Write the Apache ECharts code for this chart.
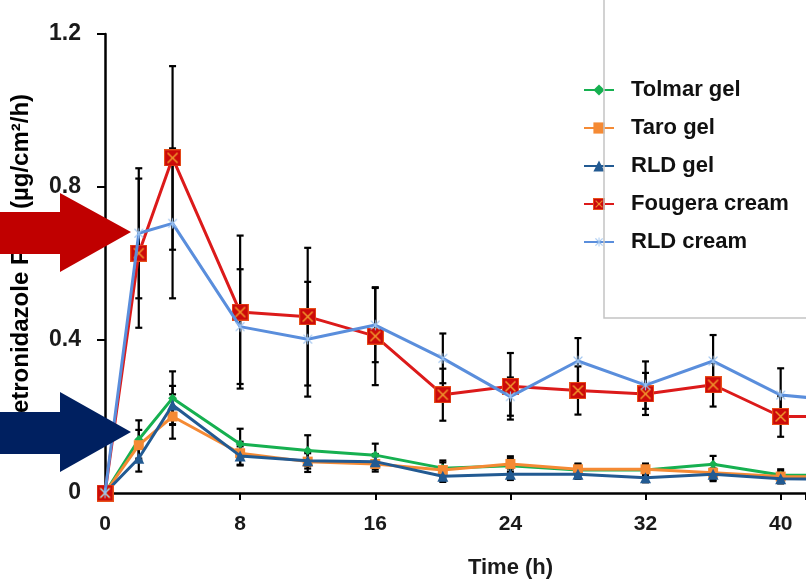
<!DOCTYPE html>
<html><head><meta charset="utf-8">
<script src="https://cdn.jsdelivr.net/npm/echarts@6/dist/echarts.min.js"></script>
<style>html,body{margin:0;padding:0;background:#fff}#c{width:806px;height:580px}</style>
</head><body><div id="c"></div>
<script>
// Time points (h)
const times = [0, 2, 4, 8, 12, 16, 20, 24, 28, 32, 36, 40, 44];
// Series names
const seriesNames = ['Tolmar gel', 'Taro gel', 'RLD gel', 'Fougera cream', 'RLD cream'];
// Flux values (µg/cm²/h)
const tolmar   = [0, 0.140, 0.248, 0.128, 0.111, 0.099, 0.065, 0.071, 0.060, 0.060, 0.075, 0.047, 0.045];
const taro     = [0, 0.125, 0.200, 0.104, 0.082, 0.076, 0.060, 0.076, 0.062, 0.062, 0.053, 0.043, 0.042];
const rldGel   = [0, 0.091, 0.230, 0.097, 0.084, 0.082, 0.044, 0.049, 0.049, 0.040, 0.049, 0.037, 0.036];
const fougera  = [0, 0.627, 0.876, 0.473, 0.461, 0.410, 0.257, 0.279, 0.268, 0.259, 0.283, 0.200, 0.200];
const rldCream = [0, 0.679, 0.705, 0.435, 0.402, 0.439, 0.352, 0.252, 0.345, 0.282, 0.345, 0.256, 0.240];
// Error bar half-widths (SD)
const tolmarErr   = [0, 0.050, 0.070, 0.040, 0.040, 0.030, 0.020, 0.020, 0.015, 0.015, 0.022, 0.015, 0.015];
const taroErr     = [0, 0.040, 0.058, 0.030, 0.027, 0.020, 0.020, 0.020, 0.015, 0.015, 0.022, 0.015, 0.015];
const rldGelErr   = [0, 0.035, 0.050, 0.025, 0.020, 0.020, 0.015, 0.015, 0.012, 0.012, 0.015, 0.012, 0.012];
const fougeraErr  = [0, 0.195, 0.240, 0.200, 0.180, 0.128, 0.068, 0.087, 0.063, 0.055, 0.057, 0.053, 0.050];
const rldCreamErr = [0, 0.170, 0.196, 0.150, 0.150, 0.097, 0.065, 0.050, 0.060, 0.062, 0.068, 0.070, 0.060];
// Axis ticks
const xTicks = [0, 8, 16, 24, 32, 40];
const yTicks = [0, 0.4, 0.8, 1.2];

const FONT = "'Liberation Sans', Arial, sans-serif";

function fougeraSymbol() {
  const c = document.createElement('canvas'); c.width = 34; c.height = 34;
  const g = c.getContext('2d');
  g.fillStyle = '#E8501A'; g.fillRect(0, 0, 34, 34);
  g.fillStyle = '#CC0A0A'; g.fillRect(2, 2, 30, 30);
  g.strokeStyle = '#F29A2E'; g.lineWidth = 3;
  g.beginPath(); g.moveTo(7, 7); g.lineTo(27, 27); g.moveTo(27, 7); g.lineTo(7, 27); g.stroke();
  return 'image://' + c.toDataURL();
}
function starSymbol() {
  const c = document.createElement('canvas'); c.width = 30; c.height = 30;
  const g = c.getContext('2d');
  g.strokeStyle = '#9CC2EE'; g.lineWidth = 2.5;
  g.beginPath();
  g.moveTo(5, 5); g.lineTo(25, 25); g.moveTo(25, 5); g.lineTo(5, 25);
  g.moveTo(15, 3); g.lineTo(15, 27);
  g.stroke();
  return 'image://' + c.toDataURL();
}

const vals = [tolmar, taro, rldGel, fougera, rldCream];
const errs = [tolmarErr, taroErr, rldGelErr, fougeraErr, rldCreamErr];
const colors = ['#16B050', '#F58A34', '#225A92', '#DC1A1A', '#5A8EDC'];
const symbols = ['diamond', 'rect', 'triangle', fougeraSymbol(), starSymbol()];
const symSizes = [9, 10, 11, 17, 13];

const series = [];
// error bars first (underneath)
vals.forEach((v, k) => {
  series.push({
    type: 'custom',
    z: 1,
    silent: true,
    data: times.map((t, i) => [t, v[i] - errs[k][i], v[i] + errs[k][i], errs[k][i]]).filter(d => d[3] > 0),
    renderItem: function (params, api) {
      const lo = api.coord([api.value(0), api.value(1)]);
      const hi = api.coord([api.value(0), api.value(2)]);
      const w = 3.5;
      const st = { stroke: '#000', lineWidth: 2.2 };
      return {
        type: 'group', children: [
          { type: 'line', shape: { x1: lo[0], y1: lo[1], x2: hi[0], y2: hi[1] }, style: st },
          { type: 'line', shape: { x1: lo[0] - w, y1: lo[1], x2: lo[0] + w, y2: lo[1] }, style: st },
          { type: 'line', shape: { x1: hi[0] - w, y1: hi[1], x2: hi[0] + w, y2: hi[1] }, style: st }
        ]
      };
    }
  });
});
vals.forEach((v, k) => {
  series.push({
    name: seriesNames[k],
    type: 'line',
    z: 2 + k,
    data: times.map((t, i) => [t, v[i]]),
    symbol: symbols[k],
    symbolSize: symSizes[k],
    showAllSymbol: true,
    lineStyle: { color: colors[k], width: 3 },
    itemStyle: { color: colors[k] },
    clip: true
  });
});

const chart = echarts.init(document.getElementById('c'), null, { renderer: 'canvas' });
chart.setOption({
  animation: false,
  backgroundColor: '#fff',
  grid: { left: 105, right: 0, top: 34, bottom: 87, containLabel: false, outerBoundsMode: 'none' },
  xAxis: {
    type: 'value', min: 0, max: 41.5, interval: 8,
    axisLine: { lineStyle: { color: '#000', width: 2.5 } },
    axisTick: { show: true, length: 7, lineStyle: { color: '#000', width: 2 } },
    splitLine: { show: false },
    axisLabel: {
      margin: 21, color: '#1a1a1a', fontSize: 21, fontWeight: 'bold', fontFamily: FONT,
      formatter: v => (xTicks.indexOf(v) >= 0 ? String(v) : '')
    },
    name: 'Time (h)', nameLocation: 'middle', nameGap: 64,
    nameTextStyle: { color: '#1a1a1a', fontSize: 22, fontWeight: 'bold', fontFamily: FONT, padding: [0, 0, 0, 110] }
  },
  yAxis: {
    type: 'value', min: 0, max: 1.2, interval: 0.4,
    axisLine: { show: true, lineStyle: { color: '#000', width: 2.5 } },
    axisTick: { show: true, length: 8, lineStyle: { color: '#000', width: 2 } },
    splitLine: { show: false },
    axisLabel: {
      margin: 24, color: '#1a1a1a', fontSize: 23, fontWeight: 'bold', fontFamily: FONT,
      formatter: v => (yTicks.indexOf(+v.toFixed(1)) >= 0 ? (v === 0 ? '0' : v.toFixed(1)) : '')
    },
    name: 'Metronidazole Flux (µg/cm²/h)', nameLocation: 'middle', nameGap: 72,
    nameTextStyle: { color: '#000', fontSize: 24, fontWeight: 'bold', fontFamily: FONT }
  },
  legend: {
    orient: 'vertical', left: 583, top: 78, padding: 0,
    itemWidth: 30, itemHeight: 14, itemGap: 14,
    data: seriesNames,
    textStyle: { color: '#111', fontSize: 22, fontWeight: 'bold', fontFamily: FONT, lineHeight: 24, padding: [0, 0, 0, 12] }
  },
  graphic: [
    { type: 'rect', z: 100, shape: { x: 604, y: -5, width: 260, height: 323 }, style: { fill: 'none', stroke: '#C4C4C4', lineWidth: 1.5 } },
    { type: 'polygon', z: 100, shape: { points: [[0, 212], [60, 212], [60, 193], [131, 232], [60, 272], [60, 254], [0, 254]] }, style: { fill: '#C00000' } },
    { type: 'polygon', z: 100, shape: { points: [[0, 412], [60, 412], [60, 392], [131, 432], [60, 472], [60, 454], [0, 454]] }, style: { fill: '#002060' } }
  ],
  series: series
});
</script>
</body></html>
